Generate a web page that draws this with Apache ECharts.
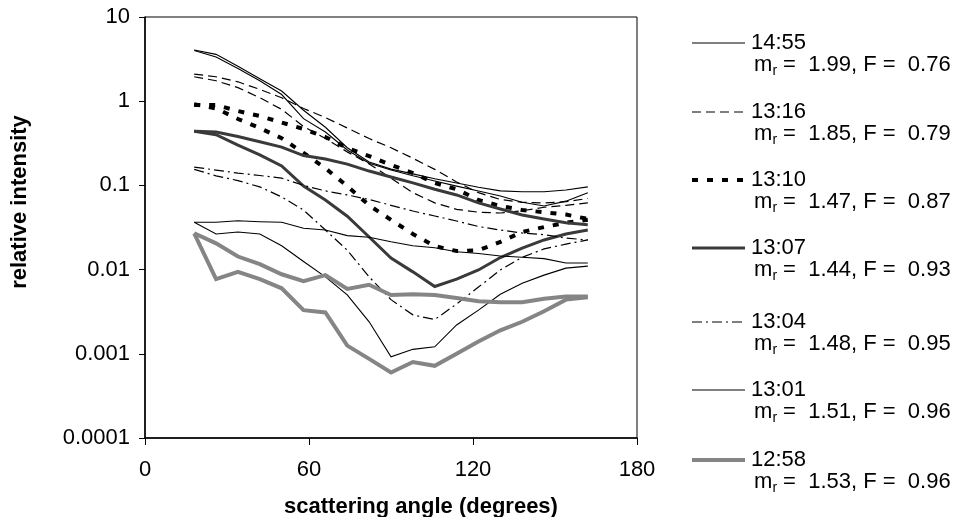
<!DOCTYPE html>
<html><head><meta charset="utf-8">
<script src="https://cdn.jsdelivr.net/npm/echarts@6/dist/echarts.min.js"></script>
<style>html,body{margin:0;padding:0;background:#fff}#c{width:960px;height:517px}</style>
</head><body><div id="c"></div>
<script>
// ---- data ----
const angles = [18, 26, 34, 42, 50, 58, 66, 74, 82, 90, 98, 106, 114, 122, 130, 138, 146, 154, 162];
const times = ['14:55', '13:16', '13:10', '13:07', '13:04', '13:01', '12:58'];
const mrValues = ['1.99', '1.85', '1.47', '1.44', '1.48', '1.51', '1.53'];
const fValues = ['0.76', '0.79', '0.87', '0.93', '0.95', '0.96', '0.96'];
const yTickLabels = ['0.0001', '0.001', '0.01', '0.1', '1', '10'];
const xTickLabels = ['0', '60', '120', '180'];

const i1455a = [4.06, 3.6, 2.6, 1.85, 1.32, 0.78, 0.49, 0.28, 0.19, 0.156, 0.137, 0.12, 0.107, 0.095, 0.086, 0.084, 0.084, 0.088, 0.096];
const i1455b = [4.0, 3.35, 2.45, 1.75, 1.2, 0.62, 0.43, 0.263, 0.183, 0.152, 0.13, 0.113, 0.098, 0.086, 0.075, 0.063, 0.057, 0.065, 0.082];
const i1316a = [2.1, 1.95, 1.7, 1.38, 1.1, 0.82, 0.64, 0.48, 0.36, 0.28, 0.21, 0.155, 0.11, 0.082, 0.068, 0.063, 0.062, 0.064, 0.07];
const i1316b = [1.95, 1.75, 1.45, 1.1, 0.8, 0.5, 0.36, 0.25, 0.18, 0.122, 0.082, 0.062, 0.052, 0.048, 0.047, 0.05, 0.055, 0.058, 0.062];
const i1310a = [0.9, 0.9, 0.765, 0.667, 0.558, 0.468, 0.376, 0.278, 0.223, 0.175, 0.14, 0.107, 0.09, 0.067, 0.057, 0.051, 0.048, 0.045, 0.04];
const i1310b = [0.92, 0.82, 0.615, 0.48, 0.363, 0.243, 0.16, 0.098, 0.058, 0.039, 0.0265, 0.019, 0.0166, 0.017, 0.0213, 0.028, 0.032, 0.036, 0.039];
const i1307a = [0.44, 0.43, 0.38, 0.33, 0.285, 0.226, 0.206, 0.179, 0.148, 0.126, 0.107, 0.09, 0.077, 0.062, 0.0525, 0.0445, 0.04, 0.036, 0.034];
const i1307b = [0.44, 0.4, 0.30, 0.23, 0.17, 0.098, 0.067, 0.043, 0.0244, 0.0137, 0.0094, 0.0063, 0.0077, 0.0099, 0.0139, 0.018, 0.0225, 0.0265, 0.0295];
const i1304a = [0.165, 0.152, 0.14, 0.131, 0.122, 0.1, 0.086, 0.077, 0.068, 0.058, 0.0496, 0.0433, 0.0378, 0.0325, 0.0295, 0.0272, 0.026, 0.0237, 0.0225];
const i1304b = [0.155, 0.13, 0.114, 0.096, 0.073, 0.051, 0.0295, 0.017, 0.0082, 0.0044, 0.0029, 0.00255, 0.0039, 0.0062, 0.0099, 0.014, 0.0176, 0.0201, 0.0225];
const i1301a = [0.0365, 0.0365, 0.038, 0.037, 0.0365, 0.031, 0.0295, 0.0253, 0.0242, 0.0214, 0.0192, 0.0182, 0.0163, 0.0155, 0.0145, 0.014, 0.0135, 0.012, 0.012];
const i1301b = [0.0365, 0.0265, 0.028, 0.0265, 0.0192, 0.0125, 0.0082, 0.005, 0.0024, 0.00092, 0.00113, 0.00121, 0.0022, 0.0033, 0.0051, 0.0069, 0.0086, 0.0104, 0.011];
const i1258a = [0.027, 0.0205, 0.0143, 0.0116, 0.0088, 0.0073, 0.0086, 0.0059, 0.0066, 0.005, 0.0051, 0.005, 0.0046, 0.0042, 0.0041, 0.0041, 0.0045, 0.0048, 0.0048];
const i1258b = [0.027, 0.0077, 0.0094, 0.0077, 0.006, 0.0033, 0.0031, 0.00125, 0.00087, 0.0006, 0.0008, 0.00072, 0.001, 0.0014, 0.0019, 0.0024, 0.0032, 0.0044, 0.0047];

const pairs = [[i1455a, i1455b], [i1316a, i1316b], [i1310a, i1310b], [i1307a, i1307b], [i1304a, i1304b], [i1301a, i1301b], [i1258a, i1258b]];

// ---- styles / layout ----
const lineStyles = [
  { color: '#000', width: 1.1, type: 'solid' },
  { color: '#000', width: 1.2, type: [9, 5] },
  { color: '#000', width: 4, type: [6, 9] },
  { color: '#3a3a3a', width: 3, type: 'solid' },
  { color: '#000', width: 1.2, type: [10, 4, 2, 4] },
  { color: '#000', width: 1.1, type: 'solid' },
  { color: '#858585', width: 4, type: 'solid' }
];
const FONT = 'Liberation Sans, Arial, sans-serif';
const legendY = [43, 112, 180, 248, 322, 390, 460];

const series = [];
pairs.forEach((pr, i) => {
  pr.forEach(arr => {
    series.push({
      name: times[i],
      type: 'line',
      data: angles.map((a, k) => [a, arr[k]]),
      symbol: 'none',
      showSymbol: false,
      silent: true,
      lineStyle: Object.assign({ cap: 'butt', join: 'miter' }, lineStyles[i]),
      z: 2
    });
  });
});

const graphic = [];
times.forEach((t, i) => {
  const y = legendY[i];
  graphic.push({
    type: 'line', shape: { x1: 692, y1: y, x2: 745, y2: y },
    style: { stroke: lineStyles[i].color, lineWidth: lineStyles[i].width,
      lineDash: Array.isArray(lineStyles[i].type) ? lineStyles[i].type : null }
  });
  graphic.push({ type: 'text', x: 751, y: y, style: { text: t, font: '22px ' + FONT, fill: '#000', textVerticalAlign: 'middle' } });
  const y2 = y + 22;
  graphic.push({ type: 'text', x: 754, y: y2, style: { text: 'm', font: '22px ' + FONT, fill: '#000', textVerticalAlign: 'middle' } });
  graphic.push({ type: 'text', x: 772.5, y: y2 + 6, style: { text: 'r', font: '14px ' + FONT, fill: '#000', textVerticalAlign: 'middle' } });
  graphic.push({ type: 'text', x: 777, y: y2, style: { text: ' =  ' + mrValues[i] + ', F =  ' + fValues[i], font: '22px ' + FONT, fill: '#000', textVerticalAlign: 'middle' } });
});
graphic.push({ type: 'text', x: 20, y: 202, rotation: Math.PI / 2,
  style: { text: 'relative intensity', font: 'bold 22px ' + FONT, fill: '#000', textAlign: 'center', textVerticalAlign: 'middle' } });
graphic.push({ type: 'text', x: 421, y: 507,
  style: { text: 'scattering angle (degrees)', font: 'bold 22px ' + FONT, fill: '#000', textAlign: 'center', textVerticalAlign: 'middle' } });

const chart = echarts.init(document.getElementById('c'), null, { renderer: 'canvas' });
chart.setOption({
  animation: false,
  backgroundColor: '#fff',
  grid: { left: 145, right: 323, top: 17, bottom: 79, show: true, borderColor: '#000', borderWidth: 1, backgroundColor: 'transparent' },
  xAxis: {
    type: 'value', min: 0, max: 180, interval: 60,
    axisLine: { show: true, onZero: false, lineStyle: { color: '#000', width: 1.5 } },
    axisTick: { show: true, length: 7, lineStyle: { color: '#000', width: 1 } },
    axisLabel: { margin: 21, fontSize: 22, fontFamily: FONT, color: '#000',
      formatter: v => xTickLabels[Math.round(v / 60)] },
    splitLine: { show: false }
  },
  yAxis: {
    type: 'log', logBase: 10, min: 0.0001, max: 10,
    axisLine: { show: true, onZero: false, lineStyle: { color: '#000', width: 1.5 } },
    axisTick: { show: true, length: 6, lineStyle: { color: '#000', width: 1 } },
    axisLabel: { margin: 15, fontSize: 22, fontFamily: FONT, color: '#000',
      formatter: v => yTickLabels[Math.round(Math.log10(v)) + 4] },
    splitLine: { show: false },
    minorTick: { show: false }
  },
  series: series,
  graphic: graphic
});
</script>
</body></html>
